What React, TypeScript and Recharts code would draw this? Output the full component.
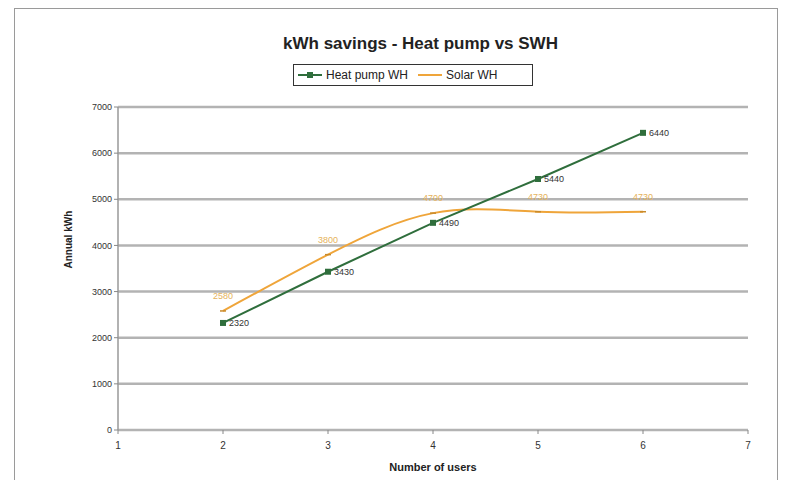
import React from 'react';
import { LineChart, Line, XAxis, YAxis, CartesianGrid, LabelList } from 'recharts';

const users = [2, 3, 4, 5, 6];
const heatPump = [2320, 3430, 4490, 5440, 6440];
const solar = [2580, 3800, 4700, 4730, 4730];
const xTicks = [1, 2, 3, 4, 5, 6, 7];
const yTicks = [0, 1000, 2000, 3000, 4000, 5000, 6000, 7000];

const data = users.map((u, i) => ({ users: u, heatPump: heatPump[i], solar: solar[i] }));

const GREEN = '#2f6e3c';
const ORANGE = '#efa53a';
const FONT = '"Liberation Sans", Arial, sans-serif';

const GreenDot = (props: any) => {
  const { cx, cy } = props;
  return <rect x={cx - 3} y={cy - 3} width={6} height={6} fill={GREEN} />;
};

const OrangeDot = (props: any) => {
  const { cx, cy } = props;
  return <line x1={cx - 3} y1={cy} x2={cx + 3} y2={cy} stroke="#c98a2a" strokeWidth={1.5} />;
};

export default function App() {
  return (
    <div style={{ position: 'absolute', left: 0, top: 0, width: 793, height: 480, background: '#fff', fontFamily: FONT }}>
      <div style={{ position: 'absolute', left: 14, top: 8, width: 764, height: 480, border: '1px solid #9a9a9a', boxSizing: 'border-box' }} />
      <div style={{ position: 'absolute', left: 0, width: 793, top: 34, textAlign: 'center', fontSize: 17, fontWeight: 'bold', color: '#222' }}>
        <span style={{ marginLeft: 48 }}>kWh savings - Heat pump vs SWH</span>
      </div>
      <div style={{ position: 'absolute', left: 293, top: 64, width: 240, height: 22, border: '1px solid #333', boxSizing: 'border-box', display: 'flex', alignItems: 'center', fontSize: 12, color: '#222' }}>
        <svg width={26} height={10} style={{ marginLeft: 4 }}>
          <line x1={0} y1={5} x2={24} y2={5} stroke={GREEN} strokeWidth={2} />
          <rect x={9} y={2} width={6} height={6} fill={GREEN} />
        </svg>
        <span style={{ marginLeft: 2 }}>Heat pump WH</span>
        <svg width={26} height={10} style={{ marginLeft: 10 }}>
          <line x1={0} y1={5} x2={24} y2={5} stroke={ORANGE} strokeWidth={2} />
        </svg>
        <span style={{ marginLeft: 2 }}>Solar WH</span>
      </div>
      <div style={{ position: 'absolute', left: 0, top: 0 }}>
        <LineChart width={793} height={480} data={data} margin={{ top: 107, right: 45, bottom: 8, left: 60 }}>
          <CartesianGrid horizontal vertical={false} stroke="#b3b3b3" strokeWidth={2.5} />
          <XAxis
            dataKey="users"
            type="number"
            domain={[1, 7]}
            ticks={xTicks}
            height={42}
            tick={{ fontSize: 10, fill: '#333', fontFamily: FONT }}
            axisLine={{ stroke: '#b3b3b3', strokeWidth: 2 }}
            tickLine={{ stroke: '#888' }}
            tickSize={4}
            tickMargin={8}
            label={{ value: 'Number of users', position: 'insideBottom', offset: 1, fontSize: 11, fontWeight: 'bold', fill: '#222', fontFamily: FONT }}
          />
          <YAxis
            type="number"
            domain={[0, 7000]}
            ticks={yTicks}
            width={58}
            tick={{ fontSize: 9, fill: '#333', fontFamily: FONT }}
            axisLine={{ stroke: '#999', strokeWidth: 1.5 }}
            tickLine={{ stroke: '#888' }}
            tickSize={4}
            label={{ value: 'Annual kWh', angle: -90, position: 'insideLeft', offset: 8, fontSize: 10, fontWeight: 'bold', fill: '#222', fontFamily: FONT }}
          />
          <Line
            dataKey="solar"
            type="natural"
            stroke={ORANGE}
            strokeWidth={2}
            dot={<OrangeDot />}
            isAnimationActive={false}
          >
            <LabelList dataKey="solar" position="top" offset={12} style={{ fontSize: 9, fill: '#e6b35c', fontFamily: FONT }} />
          </Line>
          <Line
            dataKey="heatPump"
            type="linear"
            stroke={GREEN}
            strokeWidth={2}
            dot={<GreenDot />}
            isAnimationActive={false}
          >
            <LabelList dataKey="heatPump" position="right" offset={6} style={{ fontSize: 9, fill: '#333', fontFamily: FONT }} />
          </Line>
        </LineChart>
      </div>
    </div>
  );
}
